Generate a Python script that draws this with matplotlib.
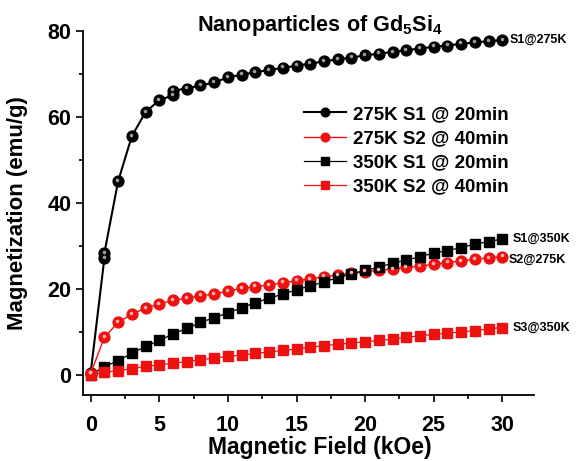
import numpy as np
import matplotlib.pyplot as plt
from matplotlib import transforms

# data (field in kOe, magnetization in emu/g)
h_s1_275 = [0, 1, 1, 2, 3, 4, 5, 6, 6, 7, 8, 9, 10, 11, 12, 13, 14, 15, 16, 17, 18,
            19, 20, 21, 22, 23, 24, 25, 26, 27, 28, 29, 30]
m_s1_275 = [0.4, 27.1, 28.3, 45.0, 55.5, 61.1, 63.9, 65.0, 66.1, 66.6, 67.3, 68.0,
            69.2, 69.8, 70.4, 70.9, 71.4, 71.9, 72.4, 72.9, 73.4, 73.8, 74.3,
            74.7, 75.1, 75.5, 75.9, 76.3, 76.6, 77.0, 77.3, 77.6, 77.9]

h = list(range(31))
m_s2_275 = [0.3, 8.7, 12.2, 14.1, 15.5, 16.4, 17.4, 17.8, 18.4, 18.8, 19.5, 20.1,
            20.5, 20.9, 21.4, 21.9, 22.3, 22.8, 23.2, 23.6, 24.0, 24.3, 24.6, 25.0,
            25.3, 25.7, 26.1, 26.5, 26.9, 27.2, 27.5]
m_s1_350 = [0.0, 1.9, 3.3, 5.0, 6.6, 8.0, 9.5, 10.8, 12.2, 13.3, 14.4, 15.6, 16.8,
            17.8, 18.8, 19.8, 20.7, 21.6, 22.6, 23.5, 24.3, 25.0, 26.0, 26.7, 27.5,
            28.3, 28.9, 29.6, 30.4, 31.0, 31.6]
m_s2_350 = [0.0, 0.6, 1.0, 1.4, 2.0, 2.3, 2.7, 3.1, 3.5, 3.9, 4.3, 4.6, 5.0, 5.3,
            5.7, 6.0, 6.4, 6.8, 7.1, 7.4, 7.7, 8.0, 8.3, 8.7, 9.1, 9.4, 9.7, 10.0,
            10.3, 10.7, 11.0]

labels = ['275K S1 @ 20min', '275K S2 @ 40min', '350K S1 @ 20min', '350K S2 @ 40min']
end_tags = ['S1@275K', 'S2@275K', 'S1@350K', 'S3@350K']

plt.rcParams['font.family'] = ['Liberation Sans', 'DejaVu Sans']
plt.rcParams['font.weight'] = 'bold'
plt.rcParams['mathtext.fontset'] = 'custom'
plt.rcParams['mathtext.bf'] = 'Liberation Sans:bold'
plt.rcParams['mathtext.rm'] = 'Liberation Sans:bold'

fig = plt.figure(figsize=(5.81, 4.61), dpi=100)
ax = fig.add_axes([0.143, 0.143, 0.776, 0.790])

def sphere(x, y, color, hl, label, lw):
    ax.plot(x, y, '-', color=color, lw=lw, marker='o', ms=7.8,
            mfc=color, mec=color, label=label, zorder=3)
    # little highlight to fake the shaded ball look
    tr = transforms.offset_copy(ax.transData, fig=fig, x=-0.6, y=1.0, units='points')
    ax.plot(x, y, 'o', ms=2.6, color=hl, mec='none', transform=tr, zorder=4)

sphere(h_s1_275, m_s1_275, 'black', '#9a9a9a', labels[0], 1.5)
sphere(h, m_s2_275, '#ee1111', '#ffb0b0', labels[1], 1.0)
ax.plot(h, m_s1_350, '-', color='black', lw=0.9, marker='s', ms=6.5,
        label=labels[2], zorder=3)
ax.plot(h, m_s2_350, '-', color='#ee1111', lw=0.9, marker='s', ms=6.5,
        label=labels[3], zorder=3)

tagfont = dict(fontsize=9, fontweight='bold', va='center', ha='left')
ax.annotate(end_tags[0], (h_s1_275[-1], m_s1_275[-1]), xytext=(7, 0),
            textcoords='offset pixels', **tagfont)
ax.annotate(end_tags[1], (h[-1], m_s2_275[-1]), xytext=(6, -3),
            textcoords='offset pixels', **tagfont)
ax.annotate(end_tags[2], (h[-1], m_s1_350[-1]), xytext=(10, 0),
            textcoords='offset pixels', **tagfont)
ax.annotate(end_tags[3], (h[-1], m_s2_350[-1]), xytext=(10, 0),
            textcoords='offset pixels', **tagfont)

ax.set_xlim(-0.55, 32.3)
ax.set_ylim(-4.7, 80)
ax.set_xticks(np.arange(0, 31, 5))
ax.set_xticks(np.arange(2.5, 32.5, 5), minor=True)
ax.set_yticks(np.arange(0, 81, 20))
ax.set_yticks(np.arange(10, 80, 20), minor=True)
for s in ['top', 'right']:
    ax.spines[s].set_visible(False)
for s in ['left', 'bottom']:
    ax.spines[s].set_linewidth(1.3)
ax.tick_params(which='major', direction='out', length=5, width=1.2, labelsize=15.5)
ax.tick_params(which='minor', direction='out', length=3, width=1.2)
ax.tick_params(axis='x', which='major', pad=9)
for t in ax.get_xticklabels() + ax.get_yticklabels():
    t.set_fontweight('bold')

ax.set_xlabel('Magnetic Field (kOe)', fontsize=16.5, fontweight='bold')
ax.xaxis.set_label_coords(0.525, -0.112)
ax.set_ylabel('Magnetization (emu/g)', fontsize=16, fontweight='bold')
ax.yaxis.set_label_coords(-0.122, 0.5)
fig.text(320 / 581, 1 - 25 / 461, 'Nanoparticles of Gd$_\\mathbf{5}$Si$_\\mathbf{4}$',
         fontsize=15.6, fontweight='bold', ha='center', va='center')

ax.legend(loc='upper left', bbox_to_anchor=(0.47, 0.82), frameon=False,
          prop=dict(size=13.5, weight='bold'), handlelength=2.2, handletextpad=0.4,
          labelspacing=0.38, borderpad=0, markerscale=0.8)

fig.savefig('out.png', dpi=100)
